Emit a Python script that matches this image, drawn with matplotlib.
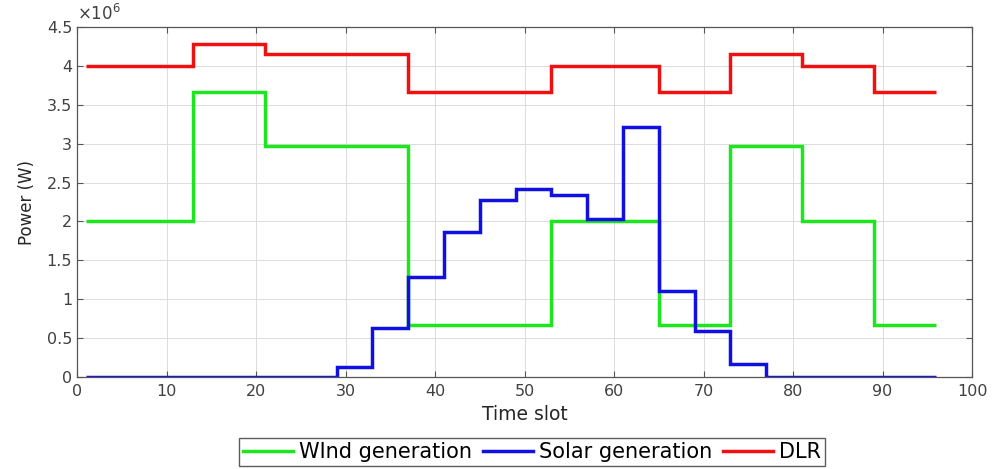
import matplotlib
matplotlib.use("Agg")
import matplotlib.pyplot as plt
from matplotlib.ticker import FuncFormatter, MultipleLocator

plt.rcParams['font.family'] = ['DejaVu Sans']

# Hourly block boundaries in time slots (96 quarter-hour slots per day)
slot_edges = [1, 5, 9, 13, 17, 21, 25, 29, 33, 37, 41, 45, 49,
              53, 57, 61, 65, 69, 73, 77, 81, 85, 89, 93, 96]

# Power per hourly block (W)
wind_gen = [2.00e6, 2.00e6, 2.00e6, 3.67e6, 3.67e6, 2.97e6, 2.97e6, 2.97e6,
            2.97e6, 0.67e6, 0.67e6, 0.67e6, 0.67e6, 2.01e6, 2.01e6, 2.01e6,
            0.67e6, 0.67e6, 2.97e6, 2.97e6, 2.01e6, 2.01e6, 0.67e6, 0.67e6]
solar_gen = [0.0, 0.0, 0.0, 0.0, 0.0, 0.0, 0.0, 0.13e6,
             0.63e6, 1.29e6, 1.86e6, 2.27e6, 2.42e6, 2.34e6, 2.03e6, 3.21e6,
             1.10e6, 0.59e6, 0.17e6, 0.0, 0.0, 0.0, 0.0, 0.0]
dlr = [4.00e6, 4.00e6, 4.00e6, 4.28e6, 4.28e6, 4.15e6, 4.15e6, 4.15e6,
       4.15e6, 3.67e6, 3.67e6, 3.67e6, 3.67e6, 4.00e6, 4.00e6, 4.00e6,
       3.67e6, 3.67e6, 4.15e6, 4.15e6, 4.00e6, 4.00e6, 3.67e6, 3.67e6]

labels = ["WInd generation", "Solar generation", "DLR"]
colors = ["#1ee61e", "#1010e0", "#ee1111"]

fig = plt.figure(figsize=(9.99, 4.69), dpi=100)
ax = fig.add_axes([77 / 999, 1 - 377 / 469, (972 - 77) / 999, (377 - 27) / 469])

handles = []
for vals, lab, col in zip([wind_gen, solar_gen, dlr], labels, colors):
    ax.stairs(vals, slot_edges, baseline=None, color=col, linewidth=2.5, label=lab)
    handles.append(plt.Line2D([], [], color=col, linewidth=2.5, label=lab))

ax.set_xlim(0, 100)
ax.set_ylim(0, 4.5e6)
ax.xaxis.set_major_locator(MultipleLocator(10))
ax.yaxis.set_major_locator(MultipleLocator(0.5e6))
ax.yaxis.set_major_formatter(FuncFormatter(lambda v, p: f"{v / 1e6:g}"))

tick_col = "#404040"
ax.tick_params(direction="in", top=True, right=True, length=4, width=0.8,
               colors="#555555", labelcolor=tick_col, labelsize=11.5)
ax.tick_params(axis="x", pad=5)
for s in ax.spines.values():
    s.set_color("#555555")
    s.set_linewidth(0.9)
ax.grid(True, color="#dcdcdc", linewidth=0.7)
ax.set_axisbelow(True)

ax.text(0, 1.01, r"$\times10^{6}$", transform=ax.transAxes, ha="left", va="bottom",
        fontsize=12, color=tick_col)

ax.set_xlabel("Time slot", fontsize=13.5, color="#262626", labelpad=4)
ax.set_ylabel("Power (W)", fontsize=12, color="#262626", labelpad=8)

fig.legend(handles=handles, loc="center", bbox_to_anchor=(532 / 999, 1 - 452 / 469),
           ncol=3, frameon=True, fancybox=False, edgecolor="#333333",
           fontsize=15, handlelength=2.4, handletextpad=0.3, columnspacing=0.5,
           borderpad=0.2, borderaxespad=0)

fig.savefig("out.png", dpi=100)
